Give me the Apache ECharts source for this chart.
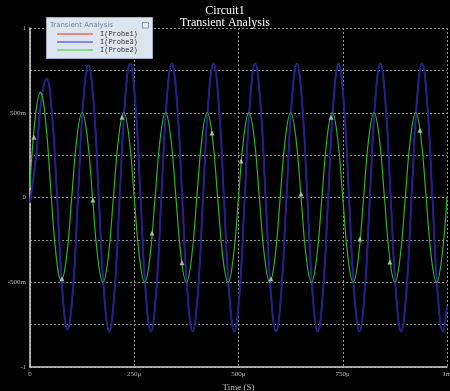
<!DOCTYPE html>
<html>
<head>
<meta charset="utf-8">
<script src="https://cdn.jsdelivr.net/npm/echarts@6/dist/echarts.min.js"></script>
<style>html,body{margin:0;padding:0;background:#000;}#c{width:450px;height:391px;}</style>
</head>
<body>
<div id="c"></div>
<script>
// ---- data (time in microseconds, current in amperes) ----
const chartTitle = 'Circuit1';
const chartSubtitle = 'Transient Analysis';
const legendTitle = 'Transient Analysis';
const seriesNames = ['I(Probe1)', 'I(Probe3)', 'I(Probe2)'];
const xTickLabels = {0: '0', 250: '250\u03bc', 500: '500\u03bc', 750: '750\u03bc', 1000: '1m'};
const yTickLabels = {'1': '1', '0.5': '500m', '0': '0', '-0.5': '-500m', '-1': '-1'};

// I(Probe2) (green) sampled every 12.5 us
const probe2Times = [
  0,12.5,25,37.5,50,62.5,75,87.5,100,112.5,125,137.5,150,162.5,175,187.5,
  200,212.5,225,237.5,250,262.5,275,287.5,300,312.5,325,337.5,350,362.5,375,387.5,
  400,412.5,425,437.5,450,462.5,475,487.5,500,512.5,525,537.5,550,562.5,575,587.5,
  600,612.5,625,637.5,650,662.5,675,687.5,700,712.5,725,737.5,750,762.5,775,787.5,
  800,812.5,825,837.5,850,862.5,875,887.5,900,912.5,925,937.5,950,962.5,975,987.5,1000];
const probe2Values = [
  0.06,0.47,0.62,0.45,0.04,-0.34,-0.49,-0.355,
  0,0.354,0.5,0.354,0,-0.354,-0.5,-0.354,
  0,0.354,0.5,0.354,0,-0.354,-0.5,-0.354,
  0,0.354,0.5,0.354,0,-0.354,-0.5,-0.354,
  0,0.354,0.5,0.354,0,-0.354,-0.5,-0.354,
  0,0.354,0.5,0.354,0,-0.354,-0.5,-0.354,
  0,0.354,0.5,0.354,0,-0.354,-0.5,-0.354,
  0,0.354,0.5,0.354,0,-0.354,-0.5,-0.354,
  0,0.354,0.5,0.354,0,-0.354,-0.5,-0.354,
  0,0.354,0.5,0.354,0,-0.354,-0.5,-0.354,
  0];

// I(Probe3) (blue)
const probe3Times = [
  0,15,27.5,40,52.5,65,77.5,90,102.5,115,127.5,140,152.5,165,177.5,190,
  202.5,215,227.5,240,252.5,265,277.5,290,302.5,315,327.5,340,352.5,365,377.5,390,
  402.5,415,427.5,440,452.5,465,477.5,490,502.5,515,527.5,540,552.5,565,577.5,590,
  602.5,615,627.5,640,652.5,665,677.5,690,702.5,715,727.5,740,752.5,765,777.5,790,
  802.5,815,827.5,840,852.5,865,877.5,890,902.5,915,927.5,940,952.5,965,977.5,990,1000];
const probe3Values = [
  -0.03,0.25,0.58,0.70,0.5,0,-0.55,-0.78,
  -0.56,0,0.56,0.78,0.56,0,-0.56,-0.79,
  -0.56,0,0.56,0.79,0.56,0,-0.56,-0.79,
  -0.56,0,0.56,0.79,0.56,0,-0.56,-0.79,
  -0.56,0,0.56,0.79,0.56,0,-0.56,-0.79,
  -0.56,0,0.56,0.79,0.56,0,-0.56,-0.79,
  -0.56,0,0.56,0.79,0.56,0,-0.56,-0.79,
  -0.56,0,0.56,0.79,0.56,0,-0.56,-0.79,
  -0.56,0,0.56,0.79,0.56,0,-0.56,-0.79,
  -0.56,0,0.56,0.79,0.56,0,-0.56,-0.79,
  -0.64];

// I(Probe1) (red) lies underneath I(Probe3)
const probe1Times = probe3Times;
const probe1Values = probe3Values;

// probe cursor markers on I(Probe2)
const markerTimes = [9.6,76.7,151,220.6,292.6,364.5,436.5,506,578,650,722,791,863,935];
const markerValues = [0.356,-0.48,-0.015,0.474,-0.21,-0.385,0.38,0.215,-0.48,0.02,0.474,-0.245,-0.38,0.397];

// ---- build ----
const pairs = (xs, ys) => xs.map((x, i) => [x, ys[i]]);
const chart = echarts.init(document.getElementById('c'), null, {renderer: 'canvas'});
const serif = 'Liberation Serif';
const labelColor = '#b8b8b8';
const gridLine = {show: true, lineStyle: {color: '#8a8a8a', width: 1, type: [2, 2]}};

chart.setOption({
  backgroundColor: '#000',
  animation: false,
  title: [
    {text: chartTitle, left: 'center', top: 0, textStyle: {color: '#fff', fontFamily: serif, fontSize: 12, fontWeight: 'normal'}},
    {text: chartSubtitle, left: 'center', top: 12, textStyle: {color: '#fff', fontFamily: serif, fontSize: 12, fontWeight: 'normal'}}
  ],
  grid: {left: 30, right: 3, top: 28, bottom: 24, containLabel: false, outerBoundsMode: 'none'},
  xAxis: {
    type: 'value', min: 0, max: 1000, interval: 250,
    name: 'Time (S)', nameLocation: 'middle', nameGap: 13,
    nameTextStyle: {color: labelColor, fontFamily: serif, fontSize: 9},
    axisLine: {show: true, onZero: false, lineStyle: {color: '#d0d0d0', width: 1.5}},
    axisTick: {show: false},
    axisLabel: {color: labelColor, fontFamily: serif, fontSize: 7, margin: 4, hideOverlap: false,
      formatter: v => xTickLabels[v] !== undefined ? xTickLabels[v] : ''},
    splitLine: gridLine
  },
  yAxis: {
    type: 'value', min: -1, max: 1, interval: 0.25,
    name: 'Current (A)', nameLocation: 'middle', nameGap: 22, nameRotate: 90,
    nameTextStyle: {color: labelColor, fontFamily: serif, fontSize: 9},
    axisLine: {show: true, onZero: false, lineStyle: {color: '#d0d0d0', width: 1.5}},
    axisTick: {show: false},
    axisLabel: {color: labelColor, fontFamily: serif, fontSize: 7, margin: 4,
      formatter: v => { const k = String(Math.round(v * 100) / 100); return yTickLabels[k] !== undefined ? yTickLabels[k] : ''; }},
    splitLine: gridLine
  },
  legend: {
    z: 30,
    left: 57, top: 30, padding: 0, orient: 'vertical', itemWidth: 36, itemHeight: 1.5, itemGap: 0,
    icon: 'rect',
    textStyle: {color: '#333', fontFamily: 'Liberation Mono', fontSize: 7, lineHeight: 8, padding: [0, 0, 0, 2]},
    data: [
      {name: seriesNames[0], itemStyle: {color: '#e86a6a'}},
      {name: seriesNames[1], itemStyle: {color: '#6a6ae0'}},
      {name: seriesNames[2], itemStyle: {color: '#6ad66a'}}
    ]
  },
  graphic: {
    elements: [
      {type: 'rect', z: 20, shape: {x: 46.5, y: 17.5, width: 106, height: 41},
        style: {fill: '#dde5ef', stroke: '#9fb0c4', lineWidth: 1}},
      {type: 'text', z: 21, x: 50, y: 22, style: {text: legendTitle, fill: '#6d7f96', font: '7px "DejaVu Sans"'}},
      {type: 'rect', z: 21, shape: {x: 142.5, y: 22.5, width: 6, height: 5.5},
        style: {fill: '#e8eef5', stroke: '#8a9ab0', lineWidth: 1}}
    ]
  },
  series: [
    {name: seriesNames[0], type: 'line', data: pairs(probe1Times, probe1Values), smooth: 0.45,
      showSymbol: false, lineStyle: {color: '#c03030', width: 1.2}, itemStyle: {color: '#c03030'}, z: 2},
    {name: seriesNames[1], type: 'line', data: pairs(probe3Times, probe3Values), smooth: 0.45,
      showSymbol: false, lineStyle: {color: '#202090', width: 2}, itemStyle: {color: '#202090'}, z: 3},
    {name: seriesNames[2], type: 'line', data: pairs(probe2Times, probe2Values), smooth: 0.45,
      showSymbol: false, lineStyle: {color: '#2fb02f', width: 1.2}, itemStyle: {color: '#2fb02f'}, z: 4},
    {name: 'markers', type: 'scatter', data: pairs(markerTimes, markerValues), symbol: 'triangle',
      symbolSize: 5, itemStyle: {color: '#c8d6c8'}, z: 5}
  ]
});
</script>
</body>
</html>
